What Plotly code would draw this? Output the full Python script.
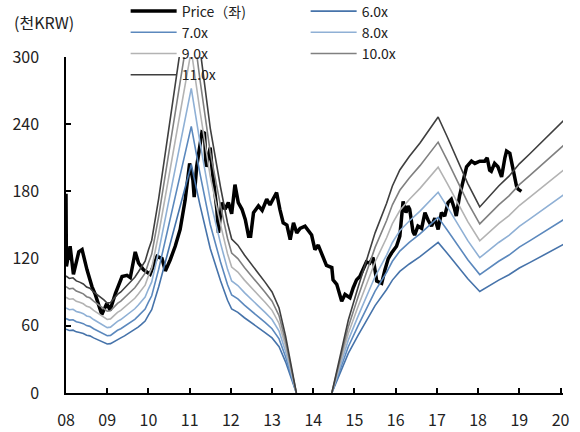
import plotly.graph_objects as go

# Share price (thousand KRW), decimal years
price_t = [2008.00, 2008.01, 2008.10, 2008.18, 2008.31, 2008.39, 2008.51, 2008.63, 2008.71,
           2008.83, 2008.87, 2008.99, 2009.07, 2009.20, 2009.36, 2009.48, 2009.56, 2009.68,
           2009.76, 2009.88, 2010.00, 2010.04, 2010.21, 2010.33, 2010.41, 2010.53, 2010.65,
           2010.77, 2010.89, 2011.00, 2011.08, 2011.11, 2011.17, 2011.30, 2011.36, 2011.40,
           2011.50, 2011.54, 2011.66, 2011.70, 2011.78, 2011.86, 2011.94, 2012.02, 2012.10,
           2012.18, 2012.27, 2012.35, 2012.43, 2012.48, 2012.55, 2012.67, 2012.76, 2012.87,
           2012.95, 2013.11, 2013.19, 2013.27, 2013.36, 2013.44, 2013.52, 2013.60, 2013.68,
           2013.80, 2013.96, 2014.04, 2014.12, 2014.24, 2014.32, 2014.45, 2014.48, 2014.57,
           2014.69, 2014.77, 2014.89, 2014.97, 2015.05, 2015.13, 2015.21, 2015.29, 2015.37,
           2015.45, 2015.54, 2015.66, 2015.74, 2015.82, 2015.90, 2016.02, 2016.10, 2016.18,
           2016.25, 2016.30, 2016.34, 2016.42, 2016.46, 2016.54, 2016.63, 2016.71, 2016.79,
           2016.87, 2016.95, 2017.03, 2017.11, 2017.19, 2017.27, 2017.35, 2017.43, 2017.47,
           2017.55, 2017.63, 2017.72, 2017.84, 2017.92, 2018.04, 2018.16, 2018.22, 2018.28,
           2018.32, 2018.40, 2018.48, 2018.57, 2018.65, 2018.69, 2018.77, 2018.85, 2018.93,
           2018.97, 2019.05]
price_v = [178, 113, 131, 106, 126, 128, 110, 95, 88,
           73, 70, 80, 74, 89, 104, 105, 103, 126,
           116, 110, 107, 106, 122, 120, 109, 119, 131,
           146, 172, 205, 190, 175, 202, 233, 232, 202,
           219, 202, 164, 143, 170, 164, 170, 160, 186,
           170, 164, 155, 140, 140, 161, 167, 163, 173,
           168, 179, 164, 152, 150, 137, 152, 143, 147,
           149, 141, 128, 132, 120, 114, 112, 101, 97,
           82, 88, 85, 94, 101, 104, 110, 117, 116,
           121, 100, 98, 110, 120, 125, 131, 140, 171,
           161, 167, 164, 144, 141, 149, 147, 161, 154,
           149, 156, 146, 161, 158, 170, 173, 164, 158,
           176, 190, 202, 207, 205, 207, 207, 210, 199,
           198, 205, 202, 193, 210, 216, 214, 199, 185,
           182, 180]

# Earnings per share (thousand KRW) used for the PER bands; None where EPS was negative
eps_t = [2008.00, 2008.08, 2008.17, 2008.25, 2008.33, 2008.42, 2008.50, 2008.58, 2008.67,
         2008.75, 2008.83, 2008.92, 2009.00, 2009.08, 2009.17, 2009.25, 2009.33, 2009.42,
         2009.50, 2009.58, 2009.67, 2009.75, 2009.83, 2009.92, 2010.00, 2010.08, 2010.25,
         2010.50, 2010.75, 2011.04, 2011.25, 2011.50, 2011.75, 2011.92, 2012.02, 2012.17,
         2012.33, 2012.50, 2012.67, 2012.83, 2013.00, 2013.17, 2013.33, 2013.59, 2014.00,
         2014.45, 2014.60, 2014.85, 2015.08, 2015.30, 2015.50, 2015.78, 2015.92, 2016.10,
         2016.33, 2016.59, 2016.80, 2017.03, 2017.25, 2017.50, 2017.75, 2018.04, 2018.25,
         2018.50, 2018.75, 2019.00, 2019.25, 2019.50, 2019.75, 2020.10]
eps_v = [9.5, 9.3, 9.35, 9.1, 9.0, 8.85, 8.6, 8.5, 8.2,
         8.0, 7.75, 7.55, 7.3, 7.35, 7.7, 8.0, 8.2, 8.5,
         8.8, 9.1, 9.4, 9.8, 10.2, 10.7, 11.6, 12.4, 15.8,
         21.5, 27.5, 34.0, 28.0, 21.5, 16.7, 13.8, 12.5, 12.0,
         11.2, 10.4, 9.7, 9.0, 8.2, 6.9, 4.6, 0.0, None,
         0.0, 2.3, 5.9, 8.5, 10.8, 13.0, 15.4, 16.8, 18.1,
         19.2, 20.3, 21.3, 22.4, 20.8, 18.9, 17.0, 15.1, 15.9,
         16.8, 17.6, 18.6, 19.4, 20.2, 21.0, 22.2]

multiples = [6.0, 7.0, 8.0, 9.0, 10.0, 11.0]
band_colors = ["#4673aa", "#5b88bd", "#8fb0d5", "#b3b3b3", "#808080", "#3f3f3f"]

year_ticks = list(range(2008, 2021))
year_labels = [f"{y % 100:02d}" for y in year_ticks]
y_ticks = [0, 60, 120, 180, 240, 300]

FONT = "Noto Sans CJK KR"

fig = go.Figure()
fig.add_trace(go.Scatter(x=price_t, y=price_v, mode="lines", name="Price（좌)",
                         line=dict(color="#000000", width=3.5)))
for m, c in zip(multiples, band_colors):
    fig.add_trace(go.Scatter(
        x=eps_t, y=[None if e is None else e * m for e in eps_v],
        mode="lines", name=f"{m:.1f}x", connectgaps=False,
        line=dict(color=c, width=1.6)))

fig.update_layout(
    width=580, height=432,
    margin=dict(l=66, r=17, t=57, b=39, autoexpand=False),
    paper_bgcolor="white", plot_bgcolor="white",
    font=dict(family=FONT, size=16, color="#222222"),
    showlegend=True,
    legend=dict(orientation="h", x=0.12, xanchor="left", y=1.183, yanchor="top",
                entrywidth=119, entrywidthmode="pixels", itemwidth=46,
                tracegroupgap=0, font=dict(family=FONT, size=14, color="#222222"),
                bgcolor="rgba(0,0,0,0)", itemclick=False),
    xaxis=dict(range=[2008, 2020.06], tickvals=year_ticks, ticktext=year_labels,
               ticks="inside", ticklen=5, tickwidth=1.5, tickcolor="#000000",
               showline=True, linecolor="#000000", linewidth=1.5,
               showgrid=False, zeroline=False, ticklabelstandoff=12),
    yaxis=dict(range=[0, 300], tickvals=y_ticks,
               ticks="inside", ticklen=5, tickwidth=1.5, tickcolor="#000000",
               showline=True, linecolor="#000000", linewidth=1.5,
               showgrid=False, zeroline=False, ticklabelstandoff=22),
    annotations=[dict(text="(천KRW)", xref="paper", yref="paper",
                      x=-0.108, y=1.104, xanchor="left", yanchor="middle",
                      showarrow=False, font=dict(family=FONT, size=16, color="#222222"))],
)

fig.write_html("out.html")
